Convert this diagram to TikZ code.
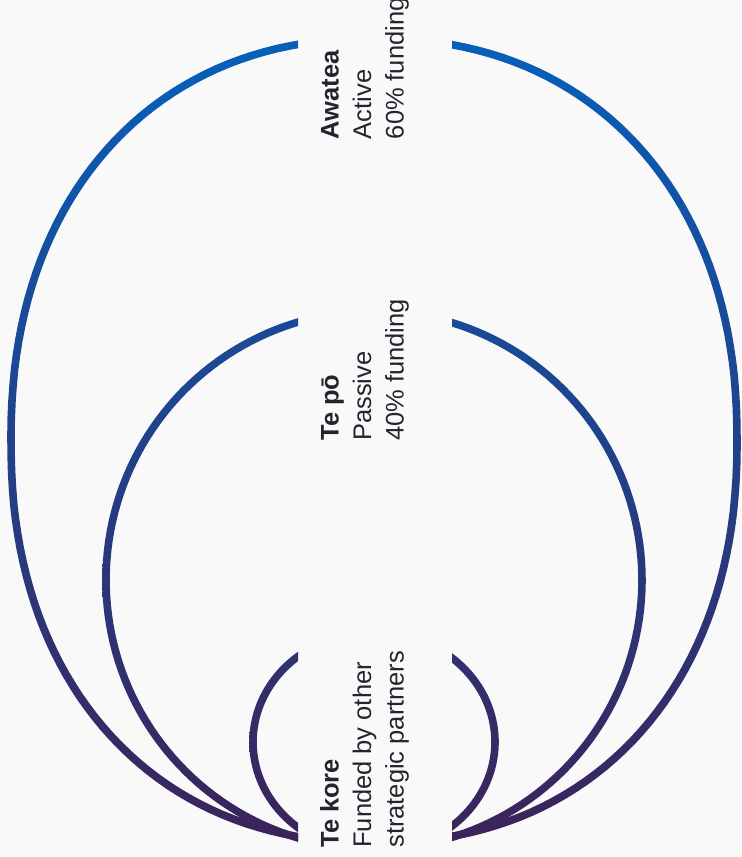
\documentclass[tikz,border=0pt]{standalone}
\usepackage{fontspec}
\setmainfont{Liberation Sans}
\definecolor{bg}{HTML}{F9F9FA}
\definecolor{topblue}{HTML}{0660BA}
\definecolor{botpurple}{HTML}{3C235A}
\definecolor{ink}{HTML}{24242E}
\begin{document}
\begin{tikzpicture}[x=0.02cm,y=-0.02cm,
  lbl/.style={rotate=90,anchor=base west,inner sep=0pt,text=ink,font=\fontsize{14.5}{17}\selectfont},
  lblb/.style={lbl,font=\fontsize{14.5}{17}\selectfont\bfseries}]
\fill[bg] (0,0) rectangle (741,857);
\useasboundingbox (0,0) rectangle (741,857);
\begin{scope}
  \clip (0,0) rectangle (298,857) (452,0) rectangle (741,857);
  \foreach \cy/\a/\b/\p in {440.5/363/402/0.909, 580/268/269/1, 742/121/110/1}{
    \begin{scope}[even odd rule]
      \clip plot[domain=0.5:360.5,samples=181,variable=\t]
              ({374+(\a+3.8)*sign(cos(\t))*abs(cos(\t))^\p},{\cy+(\b+3.8)*sign(sin(\t))*abs(sin(\t))^\p}) -- cycle
            plot[domain=0.5:360.5,samples=181,variable=\t]
              ({374+(\a-3.8)*sign(cos(\t))*abs(cos(\t))^\p},{\cy+(\b-3.8)*sign(sin(\t))*abs(sin(\t))^\p}) -- cycle;
      \shade[top color=topblue, bottom color=botpurple] (0,40) rectangle (741,842);
    \end{scope}
  }
\end{scope}
\node[lblb] (aw1) at (338.5,139.5) {Awatea};
\node[lbl]  (aw2) at (371,139.5) {Active};
\node[lbl]  (aw3) at (403.5,139.5) {60\% funding};
\node[lblb] (tp1) at (338.5,441) {Te pō};
\node[lbl]  (tp2) at (371,441) {Passive};
\node[lbl]  (tp3) at (403.5,441) {40\% funding};
\node[lblb] (tk1) at (338.5,848) {Te kore};
\node[lbl]  (tk2) at (371,848) {Funded by other};
\node[lbl]  (tk3) at (403.5,848) {strategic partners};
\end{tikzpicture}
\end{document}
